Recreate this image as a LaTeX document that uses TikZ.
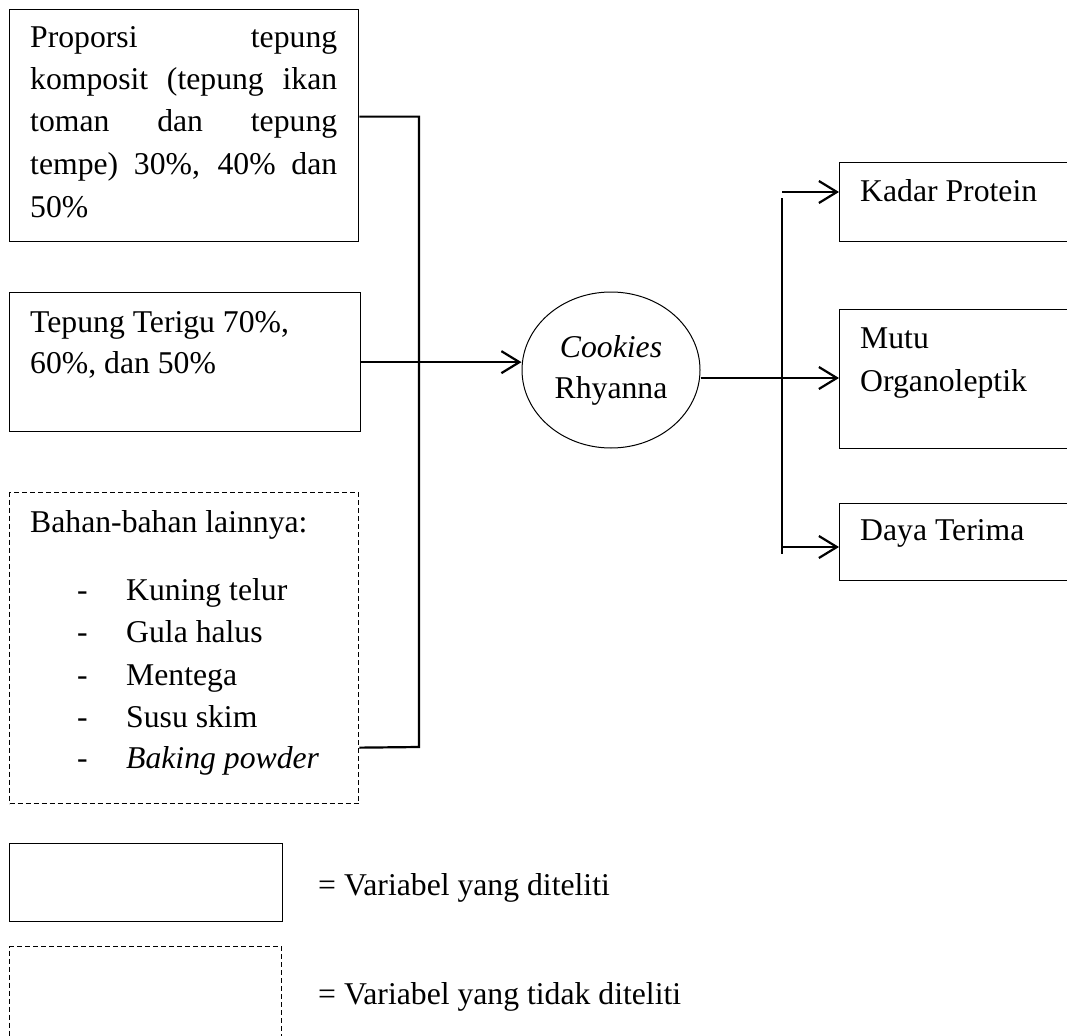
\documentclass[tikz,border=0pt]{standalone}
\usepackage{fontspec}
\setmainfont{Liberation Serif}
\usetikzlibrary{shapes.geometric,arrows.meta,calc}
\begin{document}
\begin{tikzpicture}[x=1pt,y=-1pt,
  every node/.style={font=\fontsize{31.7}{41}\selectfont},
  boxv/.style={draw,line width=1.3pt,inner sep=0pt,anchor=north west,rectangle},
  dashv/.style={boxv,dash pattern=on 5pt off 3pt},
  txt/.style={anchor=base west,inner sep=0pt},
  conn/.style={line width=2.2pt},
  arr/.style={conn,-{Straight Barb[length=18pt,width=22pt]}}]
\useasboundingbox (0,0) rectangle (1067,1035);
\clip (0,0) rectangle (1067,1035);
\fill[white] (0,0) rectangle (1067,1035);

% left boxes
\node[boxv,minimum width=349pt,minimum height=232pt] (b1) at (9,9) {};
\node[boxv,minimum width=351pt,minimum height=139pt] (b2) at (9,292) {};
\node[dashv,minimum width=349pt,minimum height=311pt] (b3) at (9,492) {};

\node[txt] (t1a) at (30,48) {\makebox[307pt][s]{Proporsi tepung}};
\node[txt] (t1b) at (30,90) {\makebox[307pt][s]{komposit (tepung ikan}};
\node[txt] (t1c) at (30,132) {\makebox[307pt][s]{toman dan tepung}};
\node[txt] (t1d) at (30,175) {\makebox[307pt][s]{tempe) 30\%, 40\% dan}};
\node[txt] (t1e) at (30,217) {50\%};

\node[txt] (t2a) at (30,332) {Tepung Terigu 70\%,};
\node[txt] (t2b) at (30,373) {60\%, dan 50\%};

\node[txt] (t3) at (30,532) {Bahan-bahan lainnya:};
\node[txt] (d1) at (77,600) {-};
\node[txt] (i1) at (126,600) {Kuning telur};
\node[txt] (d2) at (77,642) {-};
\node[txt] (i2) at (126,642) {Gula halus};
\node[txt] (d3) at (77,685) {-};
\node[txt] (i3) at (126,685) {Mentega};
\node[txt] (d4) at (77,727) {-};
\node[txt] (i4) at (126,727) {Susu skim};
\node[txt] (d5) at (77,768) {-};
\node[txt] (i5) at (126,768) {\textit{Baking powder}};

% ellipse
\node[draw,ellipse,line width=1pt,minimum width=178pt,minimum height=156pt,inner sep=0pt,align=center] (e) at (611,370) {\textit{Cookies}\\Rhyanna};

% right boxes
\node[boxv,minimum width=260pt,minimum height=79pt] (k) at (839,162) {};
\node[boxv,minimum width=260pt,minimum height=139pt] (m) at (839,309) {};
\node[boxv,minimum width=260pt,minimum height=77pt] (d) at (839,503) {};
\node[txt] (tk) at (860,201) {Kadar Protein};
\node[txt] (tm1) at (860,348) {Mutu};
\node[txt] (tm2) at (860,391) {Organoleptik};
\node[txt] (td) at (860,540) {Daya Terima};

% legend
\node[boxv,minimum width=273pt,minimum height=78pt] (l1) at (9,843) {};
\node[dashv,minimum width=272pt,minimum height=100pt] (l2) at (9,946) {};
\node[txt] (lt1) at (318,895) {= Variabel yang diteliti};
\node[txt] (lt2) at (318,1004) {= Variabel yang tidak diteliti};

% connectors left
\coordinate (jb) at (419,747);
\draw[conn] ([yshift=9pt]b1.east) -| (jb) -- ([yshift=-99.5pt]b3.east);
\draw[arr] (b2.east) -- (e.west |- b2.east);

% connectors right
\coordinate (rm) at (782,378);
\coordinate (rt) at (782,198);
\coordinate (rb) at (782,554);
\coordinate (ka) at (782,192);
\coordinate (da) at (782,547);
\draw[conn] ([yshift=-8pt]e.east) -- (rm);
\draw[conn] (rt) -- (rb);
\draw[arr] (ka) -- (k.west |- ka);
\draw[arr] (rm) -- (m.west |- rm);
\draw[arr] (da) -- (d.west |- da);
\end{tikzpicture}
\end{document}
